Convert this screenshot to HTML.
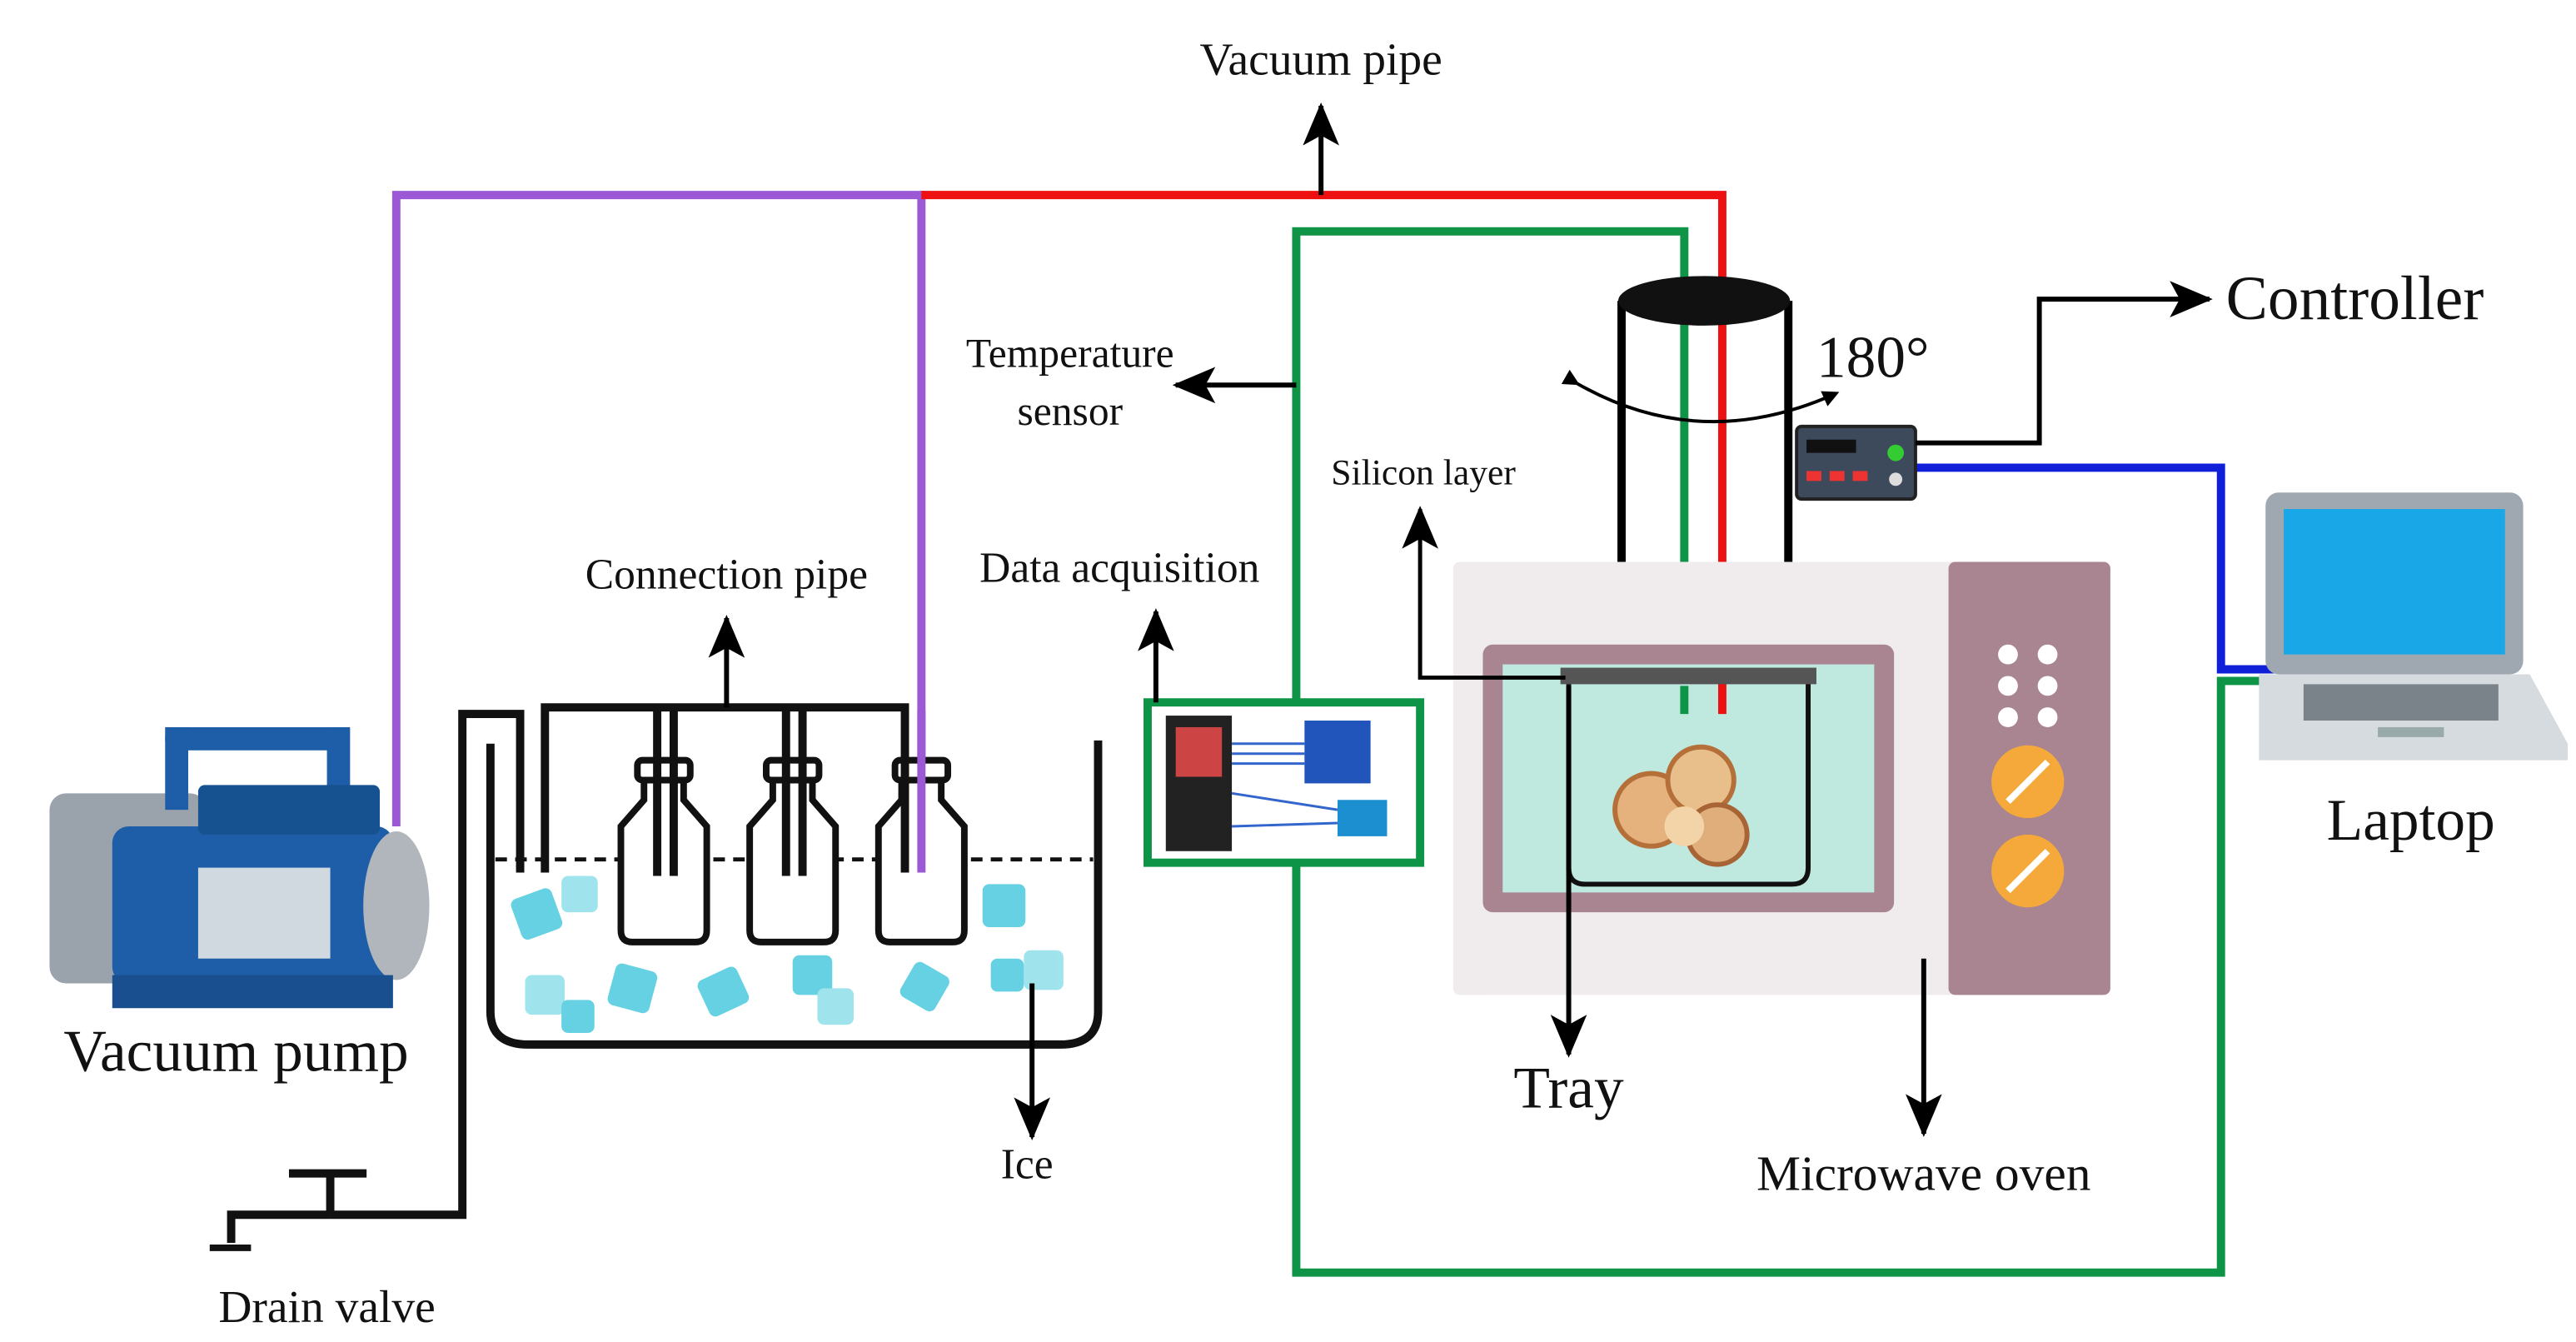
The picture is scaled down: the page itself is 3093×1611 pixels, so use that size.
<!DOCTYPE html>
<html><head><meta charset="utf-8"><style>
html,body{margin:0;padding:0;background:#fff;}
svg{display:block;}
text{font-family:"Liberation Serif",serif;fill:#111;}
</style></head><body>
<svg width="3093" height="1611" viewBox="0 0 1560 812" preserveAspectRatio="none" xmlns="http://www.w3.org/2000/svg">
<defs>
<marker id="ah" markerWidth="10" markerHeight="10" refX="8" refY="5" orient="auto" markerUnits="userSpaceOnUse">
<path d="M0,0 L10,5 L0,10 Z" fill="#000"/></marker>
<marker id="ahb" markerWidth="26" markerHeight="22" refX="24" refY="11" orient="auto" markerUnits="userSpaceOnUse">
<path d="M0,0 L26,11 L0,22 L6,11 Z" fill="#000"/></marker>
</defs>
<rect width="1560" height="812" fill="#fff"/>

<!-- pipes -->
<polyline points="240,500 240,118 558,118 558,528" fill="none" stroke="#9b59d6" stroke-width="5"/>
<polyline points="558,118 1043,118 1043,432" fill="none" stroke="#ee1111" stroke-width="5"/>
<polyline points="1020,432 1020,140 785,140 785,770 1345,770 1345,412 1385,412" fill="none" stroke="#0d9447" stroke-width="5"/>
<polyline points="1160,283 1345,283 1345,405 1385,405" fill="none" stroke="#1020d8" stroke-width="5"/>

<!-- vacuum pipe arrow -->
<line x1="800" y1="118" x2="800" y2="64" stroke="#000" stroke-width="3" marker-end="url(#ahb)"/>
<text x="800" y="45" font-size="28" text-anchor="middle">Vacuum pipe</text>

<!-- temperature sensor -->
<line x1="785" y1="233" x2="712" y2="233" stroke="#000" stroke-width="3" marker-end="url(#ahb)"/>
<text x="648" y="222" font-size="25" text-anchor="middle">Temperature</text>
<text x="648" y="257" font-size="25" text-anchor="middle">sensor</text>

<!-- cylinder -->
<rect x="980" y="182" width="105" height="160" fill="#fff" stroke="none"/>
<line x1="982" y1="182" x2="982" y2="342" stroke="#000" stroke-width="5"/>
<line x1="1083" y1="182" x2="1083" y2="342" stroke="#000" stroke-width="5"/>
<line x1="1020" y1="182" x2="1020" y2="342" stroke="#0d9447" stroke-width="5"/>
<line x1="1043" y1="182" x2="1043" y2="342" stroke="#ee1111" stroke-width="5"/>
<ellipse cx="1032" cy="182" rx="52" ry="15" fill="#111"/>
<text x="1100" y="228" font-size="36">180°</text>
<path d="M955,232 Q1030,275 1112,238" fill="none" stroke="#000" stroke-width="2" marker-start="url(#ah)" marker-end="url(#ah)"/>

<!-- controller box -->
<rect x="1088" y="258" width="72" height="44" rx="3" fill="#3c4a5c" stroke="#222" stroke-width="2"/>
<rect x="1094" y="266" width="30" height="8" fill="#111"/>
<circle cx="1148" cy="274" r="5" fill="#3c3"/>
<rect x="1094" y="285" width="9" height="6" fill="#e33"/><rect x="1108" y="285" width="9" height="6" fill="#e33"/><rect x="1122" y="285" width="9" height="6" fill="#e33"/>
<circle cx="1148" cy="290" r="4" fill="#ddd"/>
<polyline points="1160,268 1235,268 1235,181 1338,181" fill="none" stroke="#000" stroke-width="3" marker-end="url(#ahb)"/>
<text x="1348" y="193" font-size="38">Controller</text>

<!-- laptop -->
<rect x="1372" y="298" width="156" height="110" rx="8" fill="#9fa8b0"/>
<rect x="1383" y="308" width="134" height="88" fill="#1aa7e8"/>
<path d="M1368,408 L1532,408 L1555,450 L1555,460 L1368,460 Z" fill="#d6dbe0"/>
<rect x="1395" y="414" width="118" height="22" fill="#7a828a"/>
<rect x="1440" y="440" width="40" height="6" fill="#9aa"/>
<text x="1460" y="508" font-size="36" text-anchor="middle">Laptop</text>

<!-- microwave -->
<rect x="880" y="340" width="398" height="262" rx="4" fill="#f0eced"/>
<rect x="1180" y="340" width="98" height="262" rx="4" fill="#a88590"/>
<rect x="898" y="390" width="249" height="162" rx="6" fill="#a88590"/>
<rect x="910" y="402" width="225" height="138" fill="#bfe8df"/>
<circle cx="1216" cy="396" r="6" fill="#fff"/><circle cx="1240" cy="396" r="6" fill="#fff"/>
<circle cx="1216" cy="415" r="6" fill="#fff"/><circle cx="1240" cy="415" r="6" fill="#fff"/>
<circle cx="1216" cy="434" r="6" fill="#fff"/><circle cx="1240" cy="434" r="6" fill="#fff"/>
<circle cx="1228" cy="473" r="22" fill="#f4a93a"/><line x1="1216" y1="485" x2="1240" y2="461" stroke="#fff" stroke-width="4"/>
<circle cx="1228" cy="527" r="22" fill="#f4a93a"/><line x1="1216" y1="539" x2="1240" y2="515" stroke="#fff" stroke-width="4"/>
<line x1="1020" y1="415" x2="1020" y2="432" stroke="#0d9447" stroke-width="5"/>
<line x1="1043" y1="405" x2="1043" y2="432" stroke="#ee1111" stroke-width="5"/>
<!-- tray -->
<path d="M950,413 L950,525 Q950,535 960,535 L1085,535 Q1095,535 1095,525 L1095,413" fill="none" stroke="#111" stroke-width="3"/>
<rect x="945" y="404" width="155" height="10" fill="#555"/>
<!-- apples -->
<circle cx="1000" cy="490" r="22" fill="#e5b27e" stroke="#b5703a" stroke-width="3"/>
<circle cx="1030" cy="472" r="20" fill="#e8be8a" stroke="#b5703a" stroke-width="3"/>
<circle cx="1040" cy="505" r="18" fill="#dfae7a" stroke="#a86434" stroke-width="3"/>
<circle cx="1020" cy="500" r="12" fill="#f2d4a8"/>

<!-- silicon layer -->
<polyline points="948,410 860,410 860,308" fill="none" stroke="#000" stroke-width="2.5" marker-end="url(#ahb)"/>
<text x="862" y="293" font-size="22" text-anchor="middle">Silicon layer</text>
<!-- tray arrow -->
<line x1="950" y1="415" x2="950" y2="638" stroke="#000" stroke-width="3" marker-end="url(#ahb)"/>
<text x="950" y="670" font-size="36" text-anchor="middle">Tray</text>
<line x1="1165" y1="580" x2="1165" y2="686" stroke="#000" stroke-width="3" marker-end="url(#ahb)"/>
<text x="1165" y="720" font-size="30" text-anchor="middle">Microwave oven</text>

<!-- data acquisition -->
<rect x="695" y="425" width="165" height="97" fill="#fff" stroke="#0d9447" stroke-width="5"/>
<rect x="706" y="433" width="40" height="82" fill="#222"/>
<rect x="712" y="440" width="28" height="30" fill="#c44"/>
<rect x="790" y="436" width="40" height="38" fill="#2255bb"/>
<rect x="810" y="484" width="30" height="22" fill="#1b8fd0"/>
<path d="M746,450 L790,450 M746,456 L790,456 M746,462 L790,462 M746,480 L810,490 M746,500 L810,498" stroke="#36c" stroke-width="1.5"/>
<line x1="700" y1="425" x2="700" y2="370" stroke="#000" stroke-width="3" marker-end="url(#ahb)"/>
<text x="678" y="352" font-size="26" text-anchor="middle">Data acquisition</text>

<!-- ice bath -->
<path d="M297,450 L297,612 Q297,632 320,632 L642,632 Q665,632 665,612 L665,448" fill="none" stroke="#111" stroke-width="5"/>
<line x1="300" y1="520" x2="662" y2="520" stroke="#111" stroke-width="2.5" stroke-dasharray="7,5"/>
<g fill="#4cc9dd" opacity="0.85">
<rect x="312" y="540" width="26" height="26" rx="4" transform="rotate(-20 325 553)"/>
<rect x="340" y="530" width="22" height="22" rx="4" fill="#8fe0ea"/>
<rect x="318" y="590" width="24" height="24" rx="4" fill="#8fe0ea"/>
<rect x="340" y="605" width="20" height="20" rx="4"/>
<rect x="370" y="585" width="26" height="26" rx="4" transform="rotate(15 383 598)"/>
<rect x="425" y="588" width="26" height="24" rx="4" transform="rotate(-25 438 600)"/>
<rect x="480" y="578" width="24" height="24" rx="4"/>
<rect x="495" y="598" width="22" height="22" rx="4" fill="#8fe0ea"/>
<rect x="548" y="585" width="24" height="24" rx="4" transform="rotate(30 560 597)"/>
<rect x="595" y="535" width="26" height="26" rx="4"/>
<rect x="620" y="575" width="24" height="24" rx="4" fill="#8fe0ea"/>
<rect x="600" y="580" width="20" height="20" rx="4"/>
</g>
<!-- bottles -->
<g fill="#fff" stroke="#111" stroke-width="4">
<path d="M390,472 L390,484 L376,500 L376,563 Q376,570 383,570 L421,570 Q428,570 428,563 L428,500 L414,484 L414,472 Z"/>
<path d="M468,472 L468,484 L454,500 L454,563 Q454,570 461,570 L499,570 Q506,570 506,563 L506,500 L492,484 L492,472 Z"/>
<path d="M546,472 L546,484 L532,500 L532,563 Q532,570 539,570 L577,570 Q584,570 584,563 L584,500 L570,484 L570,472 Z"/>
</g>
<g fill="#fff" stroke="#111" stroke-width="4">
<rect x="386" y="460" width="32" height="12" rx="3"/>
<rect x="464" y="460" width="32" height="12" rx="3"/>
<rect x="542" y="460" width="32" height="12" rx="3"/>
</g>
<!-- connection pipes -->
<g fill="none" stroke="#111" stroke-width="5">
<polyline points="330,528 330,428 548,428 548,528"/>
<line x1="398" y1="428" x2="398" y2="530"/><line x1="408" y1="428" x2="408" y2="530"/>
<line x1="476" y1="428" x2="476" y2="530"/><line x1="486" y1="428" x2="486" y2="530"/>
<polyline points="315,528 315,432 280,432 280,735 200,735"/>
<polyline points="200,735 140,735 140,752"/>
</g>
<line x1="175" y1="710" x2="222" y2="710" stroke="#111" stroke-width="5"/>
<line x1="200" y1="710" x2="200" y2="735" stroke="#111" stroke-width="5"/>
<line x1="127" y1="755" x2="152" y2="755" stroke="#111" stroke-width="4"/>
<line x1="558" y1="430" x2="558" y2="528" stroke="#9b59d6" stroke-width="5"/>
<line x1="440" y1="428" x2="440" y2="374" stroke="#000" stroke-width="3" marker-end="url(#ahb)"/>
<text x="440" y="356" font-size="26" text-anchor="middle">Connection pipe</text>
<line x1="625" y1="595" x2="625" y2="688" stroke="#000" stroke-width="3" marker-end="url(#ahb)"/>
<text x="622" y="713" font-size="26" text-anchor="middle">Ice</text>
<text x="198" y="800" font-size="28" text-anchor="middle">Drain valve</text>

<!-- vacuum pump -->
<rect x="30" y="480" width="95" height="115" rx="10" fill="#9aa2ab"/>
<rect x="68" y="500" width="170" height="95" rx="10" fill="#1e5ea8"/>
<rect x="100" y="440" width="110" height="14" rx="6" fill="#1e5ea8"/>
<rect x="100" y="440" width="14" height="50" fill="#1e5ea8"/><rect x="198" y="440" width="14" height="50" fill="#1e5ea8"/>
<rect x="120" y="475" width="110" height="30" rx="4" fill="#16528f"/>
<rect x="120" y="525" width="80" height="55" fill="#d0d8e0"/>
<ellipse cx="240" cy="548" rx="20" ry="45" fill="#b0b6bc"/>
<rect x="68" y="590" width="170" height="20" fill="#1a4f8f"/>
<text x="143" y="648" font-size="36" text-anchor="middle">Vacuum pump</text>
</svg>
</body></html>
